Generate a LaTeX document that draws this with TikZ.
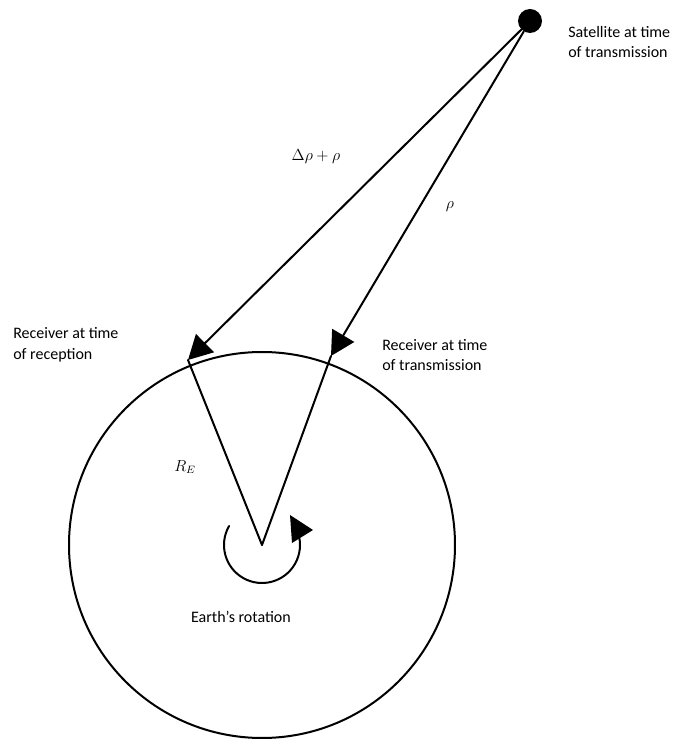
\documentclass[tikz,border=0pt]{standalone}
\usepackage{fontspec}
\setmainfont{Carlito}
\usetikzlibrary{arrows.meta, calc, positioning}

\begin{document}
\begin{tikzpicture}[
          x=0.75pt, y=0.75pt,
          >={Triangle[length=18pt, width=19pt]},
          ray/.style={draw, line width=1.5pt, line cap=round, ->},
          spoke/.style={draw, line width=1.5pt, line cap=round},
          sat/.style={circle, fill=black, minimum size=18pt, inner sep=0pt},
          lab/.style={font=\fontsize{12}{15.5}\selectfont, align=left, inner sep=0pt},
          sym/.style={font=\fontsize{12}{14}\selectfont, inner sep=0pt},
        ]
        \useasboundingbox (0,0) rectangle (700,740);

        % --- Earth, its centre and the two receiver positions ---
        \coordinate (E)    at (262,195);
        \coordinate (Rrec) at (188,380);
        \coordinate (Rtr)  at (331,384);
        \draw[spoke] (E) circle[radius=193];

        % --- Satellite and the two ranges ---
        \node[sat] (S) at (530,719) {};
        \draw[ray] (S) -- (Rrec);
        \draw[ray] (S) -- (Rtr);

        % radius lines from the centre
        \draw[spoke] (E) -- (Rrec);
        \draw[spoke] (E) -- (Rtr);

        % Earth's rotation (arc + head)
        \draw[spoke] (E) ++(150:38) arc[start angle=150, end angle=378, radius=38];
        \fill (290,225) -- (292,197) -- (313,210) -- cycle;

        % --- Labels ---
        \node[lab, anchor=west] (satlab) at (568,698) {Satellite at time\\of transmission};
        \node[lab, anchor=west] (reclab) at (13,395)  {Receiver at time\\of reception};
        \node[lab, anchor=west] (trlab)  at (382,385) {Receiver at time\\of transmission};
        \node[lab] (rotlab) at (241,123) {Earth's rotation};

        \node[sym] (drho) at (316,583) {$\Delta\rho + \rho$};
        \node[sym] (rho)  at (450,533) {$\rho$};
        \node[sym] (RE)   at (185,273) {$R_E$};

\end{tikzpicture}
\end{document}
